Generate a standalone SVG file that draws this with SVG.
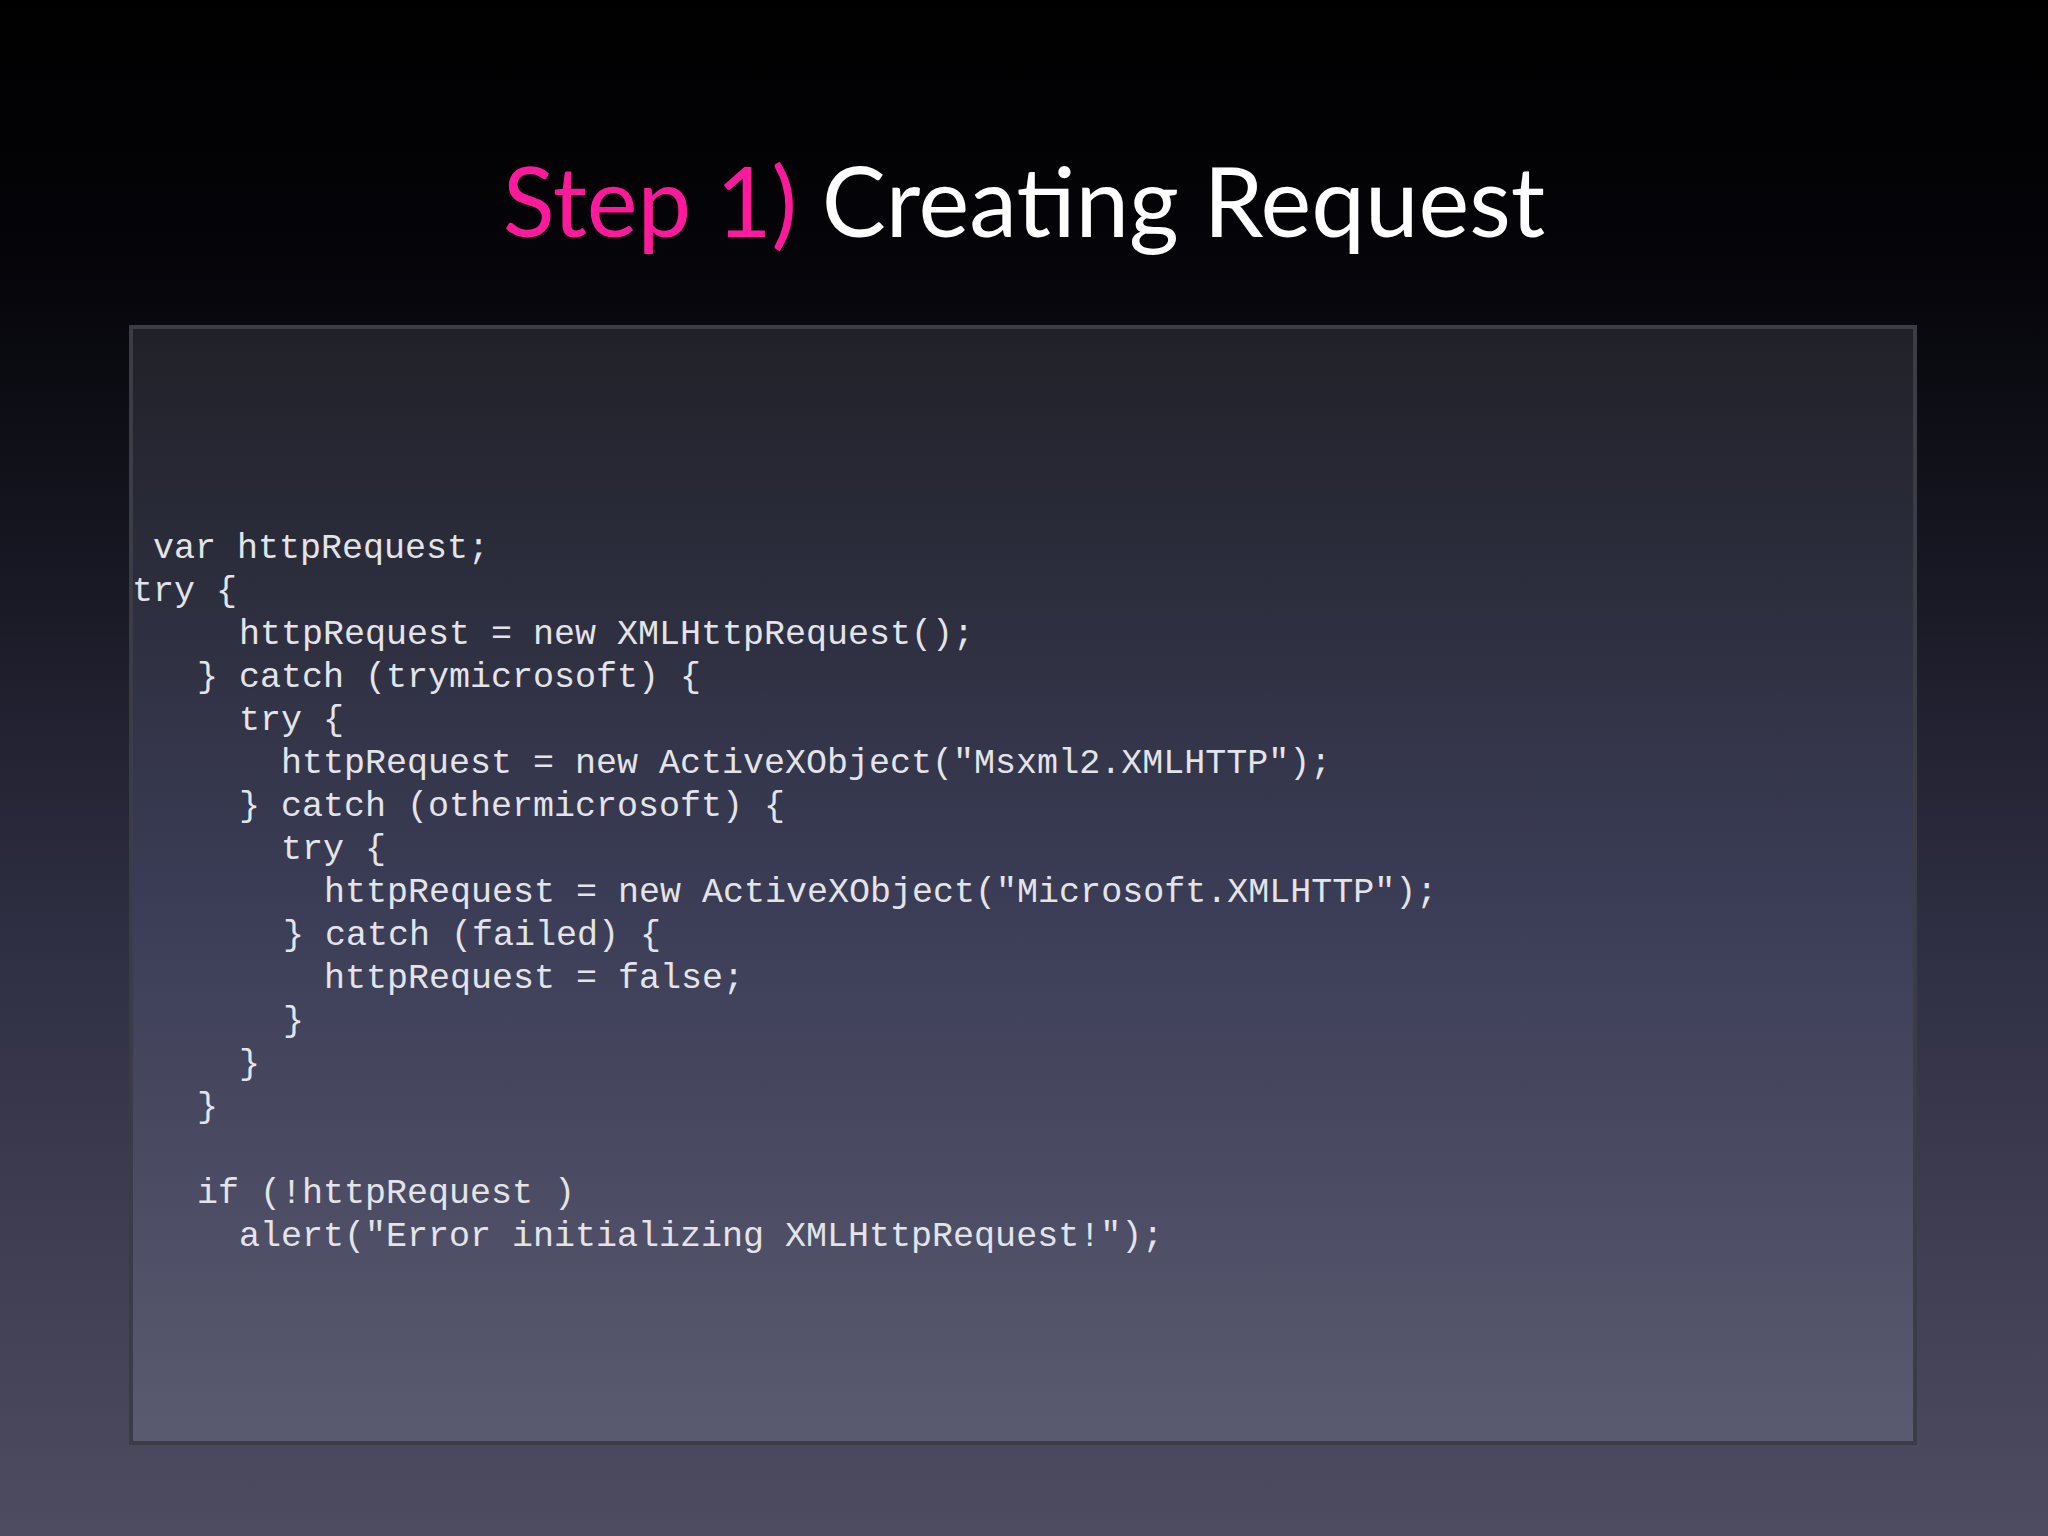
<svg xmlns="http://www.w3.org/2000/svg" width="2048" height="1536" viewBox="0 0 2048 1536">
<defs>
<linearGradient id="bg" x1="0" y1="0" x2="0" y2="1">
<stop offset="0" stop-color="#000000"/><stop offset="0.18" stop-color="#05050a"/><stop offset="0.6" stop-color="#2e2e42"/><stop offset="1" stop-color="#4e4c60"/>
</linearGradient>
<linearGradient id="box" x1="0" y1="0" x2="0" y2="1">
<stop offset="0" stop-color="#202128"/><stop offset="0.5" stop-color="#3a3c55"/><stop offset="1" stop-color="#5a5a70"/>
</linearGradient>
<style>
.c{font-family:"Liberation Mono","DejaVu Sans Mono",monospace;font-size:35px;fill:#e4e4e8;white-space:pre}
.t{font-family:"Lato","Open Sans",sans-serif;font-size:96px}
</style>
</defs>
<rect width="2048" height="1536" fill="url(#bg)"/>
<g id="title"><text x="1024" y="237" text-anchor="middle" class="t"><tspan fill="#ff1a9c">Step 1)</tspan><tspan fill="#ffffff"> Creating Request</tspan></text></g>
<g id="codebox">
<rect x="131" y="327" width="1784" height="1116" fill="url(#box)" stroke="#3c3d44" stroke-width="4"/>
<text class="c" x="153" y="558">var httpRequest;</text>
<text class="c" x="132" y="601">try {</text>
<text class="c" x="239" y="644">httpRequest = new XMLHttpRequest();</text>
<text class="c" x="197" y="687">} catch (trymicrosoft) {</text>
<text class="c" x="239" y="730">try {</text>
<text class="c" x="281" y="773">httpRequest = new ActiveXObject("Msxml2.XMLHTTP");</text>
<text class="c" x="239" y="816">} catch (othermicrosoft) {</text>
<text class="c" x="281" y="859">try {</text>
<text class="c" x="324" y="902">httpRequest = new ActiveXObject("Microsoft.XMLHTTP");</text>
<text class="c" x="283" y="945">} catch (failed) {</text>
<text class="c" x="324" y="988">httpRequest = false;</text>
<text class="c" x="283" y="1031">}</text>
<text class="c" x="239" y="1074">}</text>
<text class="c" x="197" y="1117">}</text>
<text class="c" x="197" y="1203">if (!httpRequest )</text>
<text class="c" x="239" y="1246">alert("Error initializing XMLHttpRequest!");</text>
</g>
</svg>
